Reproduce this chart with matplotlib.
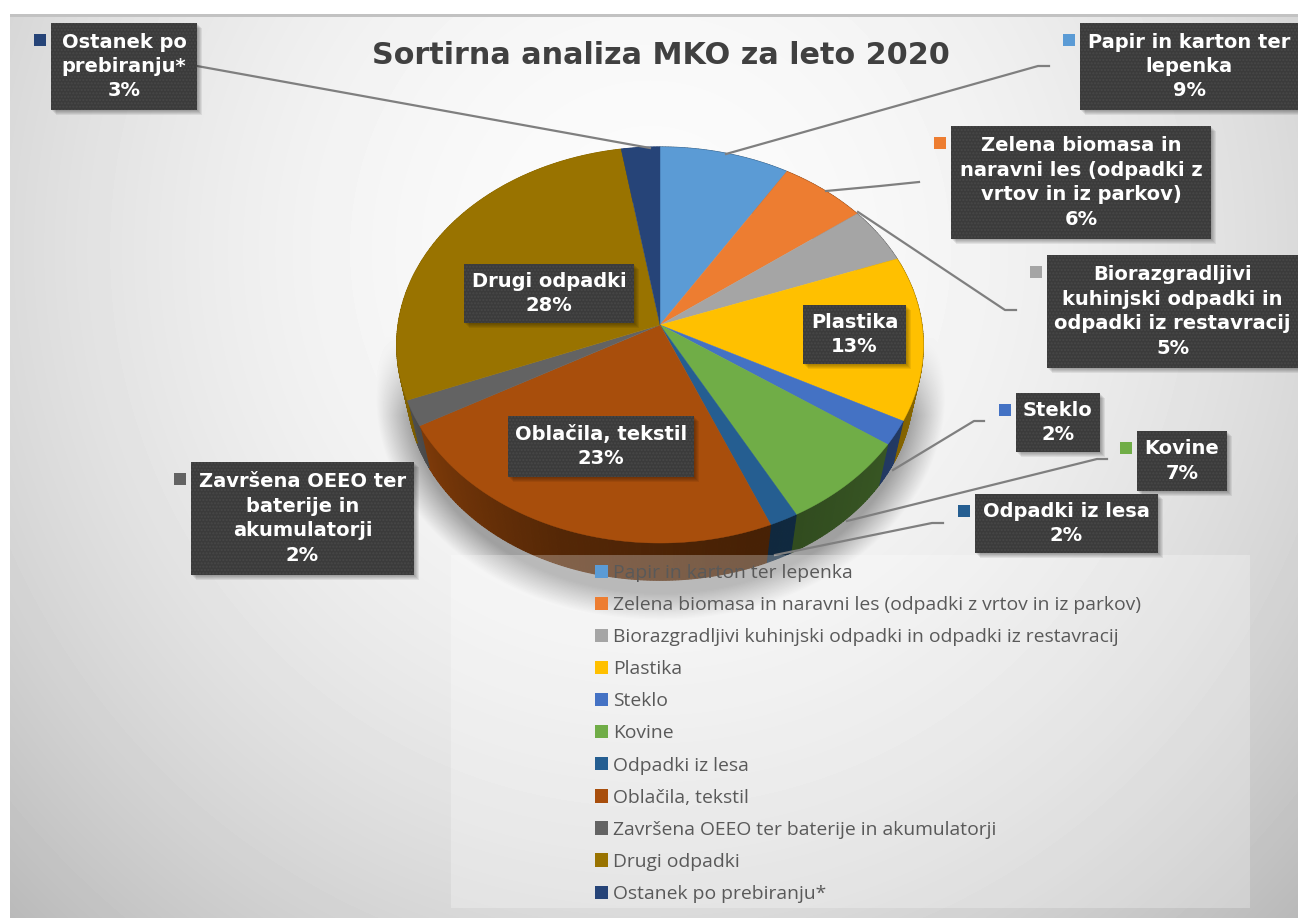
import numpy as np
import matplotlib
matplotlib.use("Agg")
import matplotlib.pyplot as plt
from matplotlib.colors import to_rgb
from matplotlib.patches import Patch, Rectangle

W, H = 1298, 918

names = ["Papir in karton ter lepenka",
         "Zelena biomasa in naravni les (odpadki z vrtov in iz parkov)",
         "Biorazgradljivi kuhinjski odpadki in odpadki iz restavracij",
         "Plastika", "Steklo", "Kovine", "Odpadki iz lesa", "Oblačila, tekstil",
         "Završena OEEO ter baterije in akumulatorji", "Drugi odpadki",
         "Ostanek po prebiranju*"]
values = [8.8, 5.9, 4.6, 13.4, 2.0, 7.4, 1.6, 23.1, 2.1, 28.4, 2.6]
colors = ["#5b9bd5", "#ed7d31", "#a5a5a5", "#ffc000", "#4472c4", "#70ad47",
          "#255e91", "#a84e0c", "#636363", "#997300", "#264478"]
# wrapped like the data labels in the picture
wrapped = ["Papir in karton ter\nlepenka",
           "Zelena biomasa in\nnaravni les (odpadki z\nvrtov in iz parkov)",
           "Biorazgradljivi\nkuhinjski odpadki in\nodpadki iz restavracij",
           "Plastika", "Steklo", "Kovine", "Odpadki iz lesa", "Oblačila, tekstil",
           "Završena OEEO ter\nbaterije in\nakumulatorji", "Drugi odpadki",
           "Ostanek po\nprebiranju*"]
# x0, x1, y0, y1 of each label box in pixels
boxes = [(1080, 1298, 23, 110), (951, 1211, 126, 239), (1047, 1298, 255, 368),
         (803, 906, 305, 364), (1016, 1100, 393, 452), (1137, 1227, 431, 491),
         (975, 1158, 494, 553), (508, 694, 416, 477), (191, 414, 462, 575),
         (464, 634, 264, 323), (51, 197, 23, 110)]
show_key = [True, True, True, False, True, True, True, False, True, False, True]
leaders = [[(1049, 66), (1038, 66), (726, 154)], [(919, 182), (880, 186), (826, 191)],
           [(1016, 310), (1005, 310), (858, 212)], None,
           [(984, 421), (974, 421), (893, 470)], [(1107, 459), (1097, 459), (847, 521)],
           [(943, 523), (932, 523), (775, 555)], None, None, None,
           [(197, 66), (650, 148)]]

CX, CY, RX, RY, K = 660, 325, 262, 196, 0.101
DROP, SHRINK = 46, 0.96  # lower rim of the pie is further away, so a bit smaller


def project(theta):
    # theta clockwise from 12 o'clock, disc seen in perspective
    u, v = np.sin(theta), np.cos(theta)
    w = 1 + K * v
    return CX + RX * u / w, CY - RY * v / w


def lower_rim(x, y):
    return CX + SHRINK * (x - CX), CY + DROP + SHRINK * (y - CY)


# background
yy, xx = np.mgrid[0:H, 0:W]
d2 = ((xx - 650) / 660.0) ** 2 + ((yy - 250) / 680.0) ** 2
bg = 0.985 - 0.135 * d2
# soft pie shadow
ds = np.sqrt(((xx - 660) / 285.0) ** 2 + ((yy - 395) / 225.0) ** 2)
shade = np.clip((1.0 - ds) / 0.12, 0, 1) * np.clip((yy - 335) / 80.0, 0, 1) * 0.34
bg = bg * (1 - shade)
bg[:14, :] = 1.0
bg[14:17, 10:] = 0.76
bg[:, :10] = 1.0

fig = plt.figure(figsize=(W / 100, H / 100), dpi=100)
ax = fig.add_axes([0, 0, 1, 1])
ax.imshow(bg, cmap="gray", vmin=0, vmax=1, extent=(0, W, H, 0), aspect="auto", zorder=0)
ax.set_xlim(0, W)
ax.set_ylim(H, 0)
ax.axis("off")

# slices
edges = np.cumsum([0] + values) / sum(values) * 2 * np.pi
for a, b, c in zip(edges[:-1], edges[1:], colors):
    steps = np.linspace(a, b, max(3, int((b - a) * 90)))
    for s0, s1 in zip(steps[:-1], steps[1:]):
        th = np.linspace(s0, s1, 4)
        x, y = project(th)
        xb, yb = lower_rim(x, y)
        f = np.interp(np.degrees((s0 + s1) / 2), [100, 160, 200, 250, 270], [0.55, 0.42, 0.5, 0.8, 0.9])
        dark = tuple(f * np.array(to_rgb(c)))
        ax.fill(np.r_[x, xb[::-1]], np.r_[y, yb[::-1]], color=dark, lw=0.8, zorder=2)
for a, b, c in zip(edges[:-1], edges[1:], colors):
    th = np.linspace(a, b, 120)
    x, y = project(th)
    ax.fill(np.r_[CX, x], np.r_[CY, y], color=c, lw=0.3, zorder=3)

# leader lines
for pts in leaders:
    if pts:
        ax.plot(*zip(*pts), color="#7f7f7f", lw=1.6, zorder=4)

# legend panel and legend
ax.add_patch(Rectangle((451, 555), 799, 353, fc="white", ec="none", alpha=0.27, zorder=5))
handles = [Patch(fc=c, ec="none", label=n) for c, n in zip(colors, names)]
leg = ax.legend(handles=handles, loc="upper left", bbox_to_anchor=(595, 564),
                bbox_transform=ax.transData, frameon=False, borderpad=0, borderaxespad=0,
                prop={"family": "Open Sans", "size": 13.9}, labelcolor="#595959",
                handlelength=0.68, handleheight=0.68, handletextpad=0.25, labelspacing=0.73)
leg.set_zorder(6)

# data labels
for name, wrap, v, box, key, c in zip(names, wrapped, values, boxes, show_key, colors):
    x0, x1, y0, y1 = box
    for i in range(1, 6):
        ax.add_patch(Rectangle((x0 + i, y0 + i), x1 - x0, y1 - y0, fc="black", ec="none",
                               alpha=0.07, zorder=7))
    ax.add_patch(Rectangle((x0, y0), x1 - x0, y1 - y0, fc="#3b3b3b", ec="#484848",
                           hatch=".....", lw=0, zorder=8))
    ax.text((x0 + x1) / 2, (y0 + y1) / 2, f"{wrap}\n{round(v)}%", color="white",
            family="DejaVu Sans", weight="bold", size=14, ha="center", va="center",
            linespacing=1.36, zorder=9)
    if key:
        ax.add_patch(Rectangle((x0 - 17, y0 + 11), 12, 12, fc=c, ec="none", zorder=9))

ax.text(661, 55, "Sortirna analiza MKO za leto 2020", color="#404040", family="DejaVu Sans",
        weight="bold", size=21.8, ha="center", va="center", zorder=9)

fig.savefig("out.png", dpi=100)
